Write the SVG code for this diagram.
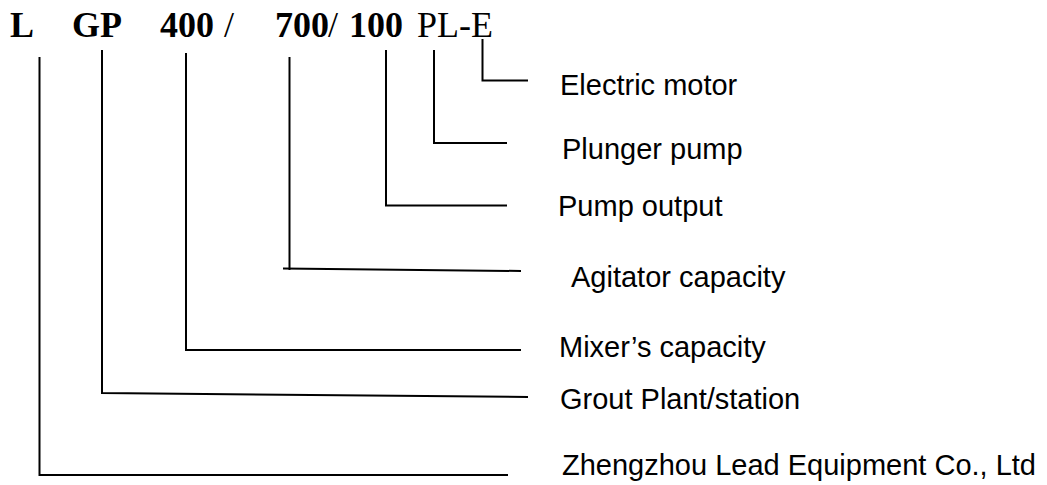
<svg xmlns="http://www.w3.org/2000/svg" width="1047" height="485" viewBox="0 0 1047 485">
  <style>
    .code { font-family: "Liberation Serif", "Times New Roman", serif; font-size: 36px; fill: #000; }
    .b { font-weight: bold; }
    .lbl { font-family: "Liberation Sans", Arial, sans-serif; font-size: 29px; fill: #000; }
    .con { fill: none; stroke: #000; stroke-width: 2; }
  </style>
  <rect width="1047" height="485" fill="#fff"/>
  <g id="code">
    <text class="code b" x="10" y="37">L</text>
    <text class="code b" x="72" y="37">GP</text>
    <text class="code b" x="160" y="37">400</text>
    <text class="code" x="224" y="37">/</text>
    <text class="code b" x="275" y="37">700</text>
    <text class="code" x="328" y="37">/</text>
    <text class="code b" x="349" y="37">100</text>
    <text class="code" x="417" y="37">PL-E</text>
  </g>
  <g id="connectors">
    <polyline class="con" points="39.5,57 39.5,475 508,475"/>
    <polyline class="con" points="102,50 102,393 528,397"/>
    <polyline class="con" points="186,53 186,350 521,350"/>
    <polyline class="con" points="289.5,57 289.5,270"/>
    <line class="con" x1="283" y1="268.5" x2="521" y2="271"/>
    <polyline class="con" points="386,50 386,205.5 507,205.5"/>
    <polyline class="con" points="434,50 434,143 507,143"/>
    <polyline class="con" points="482.5,39 482.5,80.5 528,80.5"/>
  </g>
  <g id="electric-motor"><text class="lbl" x="560" y="95">Electric motor</text></g>
  <g id="plunger-pump"><text class="lbl" x="562" y="159">Plunger pump</text></g>
  <g id="pump-output"><text class="lbl" x="558" y="216">Pump output</text></g>
  <g id="agitator-capacity"><text class="lbl" x="571" y="286.5">Agitator capacity</text></g>
  <g id="mixers-capacity"><text class="lbl" x="559" y="357">Mixer’s capacity</text></g>
  <g id="grout-plant"><text class="lbl" x="560" y="409">Grout Plant/station</text></g>
  <g id="zhengzhou"><text class="lbl" x="562" y="475">Zhengzhou Lead Equipment Co., Ltd</text></g>
</svg>
